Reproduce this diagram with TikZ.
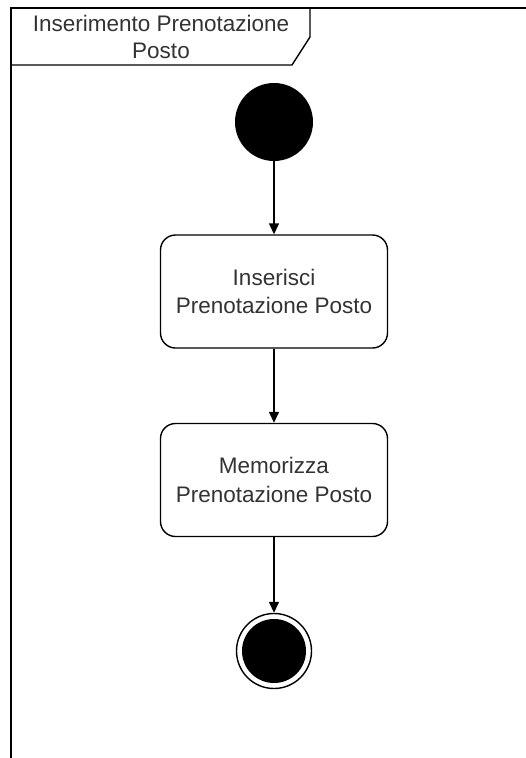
\documentclass[tikz,border=0pt]{standalone}
\usepackage{fontspec}
\setmainfont{Liberation Sans}
\usetikzlibrary{arrows.meta}
\definecolor{txt}{HTML}{333333}
\tikzset{
  x=1pt, y=-1pt,
  line/.style={draw=black, line width=1.4pt},
  action/.style={line, rounded corners=15pt, minimum width=227pt, minimum height=113pt,
    align=center, text=txt, font=\fontsize{22.5}{28.5}\selectfont, inner sep=0pt},
  initial/.style={circle, fill=black, minimum size=78pt, inner sep=0pt},
  finalring/.style={circle, line, fill=white, minimum size=75pt, inner sep=0pt},
  finaldot/.style={circle, fill=black, minimum size=64pt, inner sep=0pt},
  flow/.style={line, -{Triangle[length=11pt,width=10pt]}},
}
\begin{document}
\begin{tikzpicture}
\useasboundingbox (0,0) rectangle (526,758);
\clip (0,0) rectangle (526,758);
\fill[white] (0,0) rectangle (526,758);

% outer frame of the activity
\draw[line] (11,770) -- (11,8) -- (540,8);
% frame name tab
\draw[line] (11,65) -- (292,65) -- (310,37) -- (310,8);
\node[text=txt, font=\fontsize{22.5}{27}\selectfont, align=center, inner sep=0pt]
  (title) at (161,37) {Inserimento Prenotazione\\Posto};

% nodes
\node[initial] (start) at (274,122) {};
\node[action] (ins) at (274,291.5) {Inserisci\\Prenotazione Posto};
\node[action] (mem) at (274,480) {Memorizza\\Prenotazione Posto};
\node[finalring] (endring) at (274,651) {};
\node[finaldot] (enddot) at (endring.center) {};

% control flow
\draw[flow] (start) -- (ins);
\draw[flow] (ins) -- (mem);
\draw[flow] (mem) -- (endring);
\end{tikzpicture}
\end{document}
